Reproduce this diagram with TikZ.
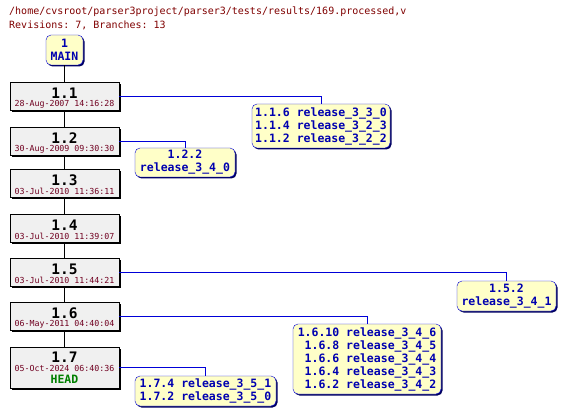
\documentclass[tikz,border=0pt]{standalone}
\usepackage{fontspec}
\setmonofont{DejaVu Sans Mono}
\usetikzlibrary{shadows}
\definecolor{titlered}{HTML}{800000}
\definecolor{datered}{HTML}{700020}
\definecolor{branchtext}{HTML}{0000B0}
\definecolor{branchline}{HTML}{0000D8}
\definecolor{boxyellow}{HTML}{FFFFC8}
\definecolor{revgrey}{HTML}{F0F0F0}
\definecolor{headgreen}{HTML}{008000}
\definecolor{navyshadow}{HTML}{000060}
\tikzset{
  rev/.style={draw=black, fill=revgrey, minimum width=109pt, minimum height=28pt, inner sep=0pt,
    drop shadow={shadow xshift=2pt, shadow yshift=-2pt, fill=black, opacity=1}},
  revnum/.style={inner sep=0pt, font=\ttfamily\bfseries\fontsize{14.5}{15}\selectfont, text=black},
  revdate/.style={inner sep=0pt, font=\ttfamily\fontsize{8.3}{9}\selectfont, text=datered},
  brbox/.style={draw=branchline, fill=boxyellow, rounded corners=5pt, inner sep=0pt,
    font=\ttfamily\bfseries\fontsize{11.5}{13}\selectfont, text=branchtext,
    drop shadow={shadow xshift=1.5pt, shadow yshift=-1.5pt, fill=navyshadow, opacity=1}},
  trunk/.style={draw=black, line width=0.8pt},
  brline/.style={draw=branchline, line width=0.8pt},
  titletext/.style={anchor=west, inner sep=0pt, font=\ttfamily\fontsize{10}{12}\selectfont, text=titlered}
}
\begin{document}
\begin{tikzpicture}[x=1pt,y=-1pt]
\useasboundingbox (0,0) rectangle (568,417);
\fill[white] (0,0) rectangle (568,417);
\node[titletext] (t1) at (9,12) {/home/cvsroot/parser3project/parser3/tests/results/169.processed,v};
\node[titletext] (t2) at (9,25) {Revisions: 7, Branches: 13};

\node[brbox, minimum width=37pt, minimum height=30pt, align=center] (main) at (64.5,50) {1\\MAIN};

\node[rev] (r1) at (64.5,96) {};
\node[revnum] (r1n) at (64.5,93) {1.1};
\node[revdate] (r1d) at (64.5,104) {28-Aug-2007 14:16:28};

\node[rev] (r2) at (64.5,141) {};
\node[revnum] (r2n) at (64.5,138) {1.2};
\node[revdate] (r2d) at (64.5,149) {30-Aug-2009 09:30:30};

\node[rev] (r3) at (64.5,183) {};
\node[revnum] (r3n) at (64.5,180) {1.3};
\node[revdate] (r3d) at (64.5,191) {03-Jul-2010 11:36:11};

\node[rev] (r4) at (64.5,228) {};
\node[revnum] (r4n) at (64.5,225) {1.4};
\node[revdate] (r4d) at (64.5,236) {03-Jul-2010 11:39:07};

\node[rev] (r5) at (64.5,272) {};
\node[revnum] (r5n) at (64.5,269) {1.5};
\node[revdate] (r5d) at (64.5,280) {03-Jul-2010 11:44:21};

\node[rev] (r6) at (64.5,316) {};
\node[revnum] (r6n) at (64.5,313) {1.6};
\node[revdate] (r6d) at (64.5,324) {06-May-2011 04:40:04};

\node[rev, minimum height=41pt] (r7) at (64.5,367.5) {};
\node[revnum] (r7n) at (64.5,357) {1.7};
\node[revdate] (r7d) at (64.5,368) {05-Oct-2024 06:40:36};
\node[inner sep=0pt, font=\ttfamily\bfseries\fontsize{11.5}{13}\selectfont, text=headgreen] (r7h) at (64.5,379) {HEAD};

\draw[trunk] (main.south) -- (r1.north);
\draw[trunk] (r1.south) -- (r2.north);
\draw[trunk] (r2.south) -- (r3.north);
\draw[trunk] (r3.south) -- (r4.north);
\draw[trunk] (r4.south) -- (r5.north);
\draw[trunk] (r5.south) -- (r6.north);
\draw[trunk] (r6.south) -- (r7.north);

\node[brbox, minimum width=138pt, minimum height=44pt, align=center] (b1) at (321,126) {1.1.6 release\_3\_3\_0\\1.1.4 release\_3\_2\_3\\1.1.2 release\_3\_2\_2};
\node[brbox, minimum width=100pt, minimum height=29pt, align=center] (b2) at (185,162.5) {1.2.2\\release\_3\_4\_0};
\node[brbox, minimum width=99pt, minimum height=30pt, align=center] (b5) at (506.5,296) {1.5.2\\release\_3\_4\_1};
\node[brbox, minimum width=148pt, minimum height=70pt, align=right] (b6) at (367,359) {1.6.10 release\_3\_4\_6\\1.6.8 release\_3\_4\_5\\1.6.6 release\_3\_4\_4\\1.6.4 release\_3\_4\_3\\1.6.2 release\_3\_4\_2};
\node[brbox, minimum width=141pt, minimum height=30pt, align=center] (b7) at (205.5,391) {1.7.4 release\_3\_5\_1\\1.7.2 release\_3\_5\_0};

\draw[brline] (r1.east) -| (b1.north);
\draw[brline] (r2.east) -| (b2.north);
\draw[brline] (r5.east) -| (b5.north);
\draw[brline] (r6.east) -| (b6.north);
\draw[brline] (r7.east) -| (b7.north);
\end{tikzpicture}
\end{document}
